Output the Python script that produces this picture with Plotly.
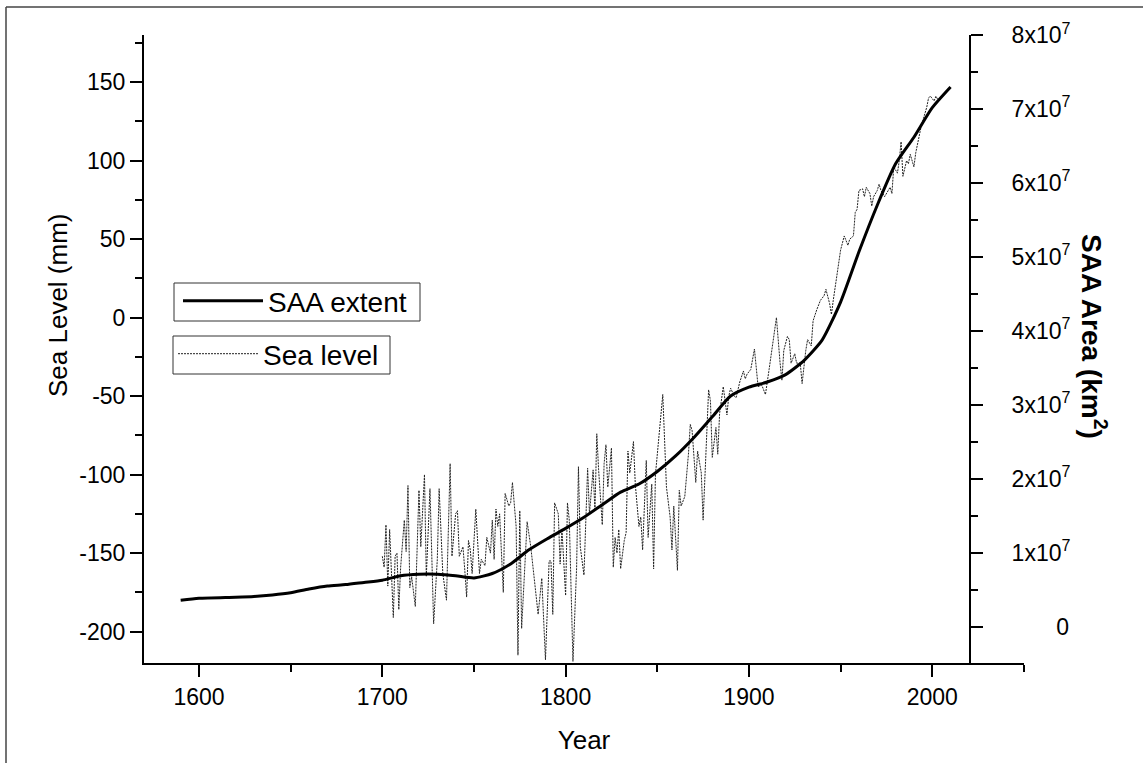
import plotly.graph_objects as go

# ---- data ----
saa_year = [1590, 1600, 1620, 1630, 1640, 1650, 1660, 1670, 1680, 1690, 1700,
            1710, 1720, 1730, 1740, 1750, 1760, 1770, 1780, 1790, 1800, 1810, 1820,
            1830, 1840, 1850, 1860, 1870, 1880, 1890, 1900, 1910, 1920, 1930, 1940,
            1950, 1960, 1970, 1980, 1990, 2000, 2010]
saa_area = [3.58e6, 3.85e6, 4.0e6, 4.1e6, 4.3e6, 4.6e6, 5.1e6, 5.5e6, 5.7e6, 6.0e6, 6.3e6,
            6.9e6, 7.1e6, 7.1e6, 6.9e6, 6.6e6, 7.2e6, 8.5e6, 1.04e7, 1.19e7, 1.33e7, 1.48e7, 1.65e7,
            1.82e7, 1.93e7, 2.10e7, 2.31e7, 2.56e7, 2.84e7, 3.12e7, 3.24e7, 3.31e7, 3.41e7, 3.60e7, 3.88e7,
            4.39e7, 5.07e7, 5.70e7, 6.26e7, 6.62e7, 7.02e7, 7.30e7]

sea_year = [1700, 1701, 1702, 1703, 1704, 1705, 1706, 1707, 1708, 1709, 1710, 1712, 1713, 1714,
            1715, 1716, 1718, 1720, 1721, 1723, 1724, 1726, 1727, 1728, 1730, 1731, 1733, 1735,
            1737, 1738, 1740, 1741, 1742, 1744, 1745, 1746, 1747, 1748, 1749, 1751, 1753, 1754,
            1756, 1757, 1759, 1760, 1761, 1762, 1763, 1764, 1766, 1767, 1769, 1770, 1771, 1773,
            1774, 1775, 1776, 1778, 1779, 1781, 1784, 1785, 1787, 1789, 1791, 1792, 1793, 1794,
            1796, 1797, 1798, 1800, 1801, 1802, 1804, 1806, 1807, 1808, 1810, 1811, 1812, 1813,
            1815, 1816, 1817, 1818, 1820, 1821, 1822, 1823, 1825, 1826, 1827, 1828, 1829, 1830,
            1832, 1833, 1834, 1835, 1837, 1838, 1840, 1841, 1842, 1844, 1845, 1847, 1848, 1849,
            1851, 1853, 1855, 1857, 1858, 1859, 1861, 1862, 1863, 1865, 1867, 1868, 1869, 1871,
            1872, 1874, 1875, 1877, 1878, 1879, 1880, 1882, 1883, 1884, 1885, 1886, 1888, 1889,
            1890, 1892, 1893, 1895, 1897, 1898, 1899, 1901, 1903, 1905, 1907, 1909, 1911, 1913,
            1915, 1917, 1918, 1919, 1921, 1922, 1923, 1925, 1926, 1928, 1929, 1931, 1932, 1934,
            1935, 1937, 1939, 1941, 1942, 1944, 1945, 1946, 1948, 1950, 1952, 1954, 1955, 1957,
            1958, 1959, 1960, 1962, 1963, 1964, 1966, 1967, 1968, 1970, 1971, 1972, 1974, 1975,
            1977, 1978, 1979, 1981, 1982, 1983, 1984, 1986, 1987, 1988, 1990, 1991, 1992, 1994,
            1995, 1997, 1998, 1999, 2001, 2002, 2003]
sea_level = [-152, -159, -132, -171, -135, -167, -191, -152, -150, -186, -159, -129, -149, -107,
             -172, -165, -184, -110, -146, -100, -165, -109, -158, -195, -154, -109, -163, -180,
             -93, -152, -125, -123, -152, -146, -161, -178, -142, -148, -163, -122, -163, -154,
             -158, -140, -150, -129, -154, -122, -133, -125, -175, -112, -120, -118, -105, -133,
             -215, -123, -198, -154, -130, -146, -176, -189, -166, -218, -155, -155, -189, -118,
             -125, -157, -135, -177, -118, -129, -219, -159, -95, -146, -164, -129, -96, -125,
             -97, -123, -74, -97, -132, -93, -81, -108, -83, -159, -140, -150, -135, -160,
             -142, -137, -85, -99, -79, -106, -133, -127, -148, -91, -140, -106, -160, -100,
             -72, -49, -108, -127, -148, -120, -161, -110, -120, -114, -87, -68, -72, -105,
             -85, -99, -129, -74, -46, -53, -89, -70, -87, -61, -53, -44, -62, -50,
             -45, -50, -51, -41, -34, -39, -36, -33, -20, -44, -43, -49, -33, -18,
             0, -29, -40, -21, -12, -14, -29, -23, -29, -29, -42, -21, -14, -18,
             -2, 5, 11, 14, 18, 9, 2, 11, 28, 43, 52, 46, 50, 52,
             67, 69, 81, 82, 77, 83, 79, 71, 77, 81, 85, 81, 77, 79,
             83, 79, 96, 92, 100, 112, 90, 100, 98, 104, 96, 105, 111, 122,
             126, 134, 140, 141, 138, 141, 139]

x_ticks = [1600, 1700, 1800, 1900, 2000]
left_tickvals = [-200, -150, -100, -50, 0, 50, 100, 150]
left_ticktext = ["-200", "-150", "-100", "-50", "0", "50", "100", "150"]
right_tickvals = [0, 1e7, 2e7, 3e7, 4e7, 5e7, 6e7, 7e7, 8e7]
right_ticktext = ["\u00a0" * 7 + "0"] + ["%dx10<sup>7</sup>" % k for k in range(1, 9)]

FONT = "Arial, 'Liberation Sans', sans-serif"

fig = go.Figure()
fig.add_trace(go.Scatter(
    x=saa_year, y=saa_area, mode="lines", name="SAA extent", yaxis="y2",
    line=dict(color="black", width=3, shape="spline", smoothing=0.6),
    legend="legend"))
fig.add_trace(go.Scatter(
    x=sea_year, y=sea_level, mode="lines", name="Sea level", yaxis="y",
    line=dict(color="#222222", width=1, dash="2px,1px"),
    legend="legend2"))

axis_common = dict(showgrid=False, zeroline=False, showline=True, linecolor="black",
                   linewidth=2, ticks="outside", ticklen=12, tickwidth=2, tickcolor="black",
                   tickfont=dict(family=FONT, size=23, color="black"))

def px_x(px):
    return (px - 144) / 880

def px_y(py):
    return (663 - py) / 628

fig.update_layout(
    width=1143, height=763,
    margin=dict(l=144, r=119, t=35, b=100),
    paper_bgcolor="white", plot_bgcolor="white",
    font=dict(family=FONT, color="black"),
    xaxis=dict(range=[1570, 2050.05], tickvals=x_ticks,
               minor=dict(dtick=50, tick0=1600, ticks="outside", ticklen=7, tickwidth=2, tickcolor="black"),
               title=dict(text="Year", font=dict(family=FONT, size=26), standoff=22),
               **axis_common),
    yaxis=dict(range=[-220, 180], tickvals=left_tickvals, ticktext=left_ticktext,
               minor=dict(dtick=25, tick0=0, ticks="outside", ticklen=7, tickwidth=2, tickcolor="black"),
               **axis_common),
    yaxis2=dict(range=[-4.9e6, 8.002e7], overlaying="y", side="right", anchor="free",
                position=px_x(970),
                tickvals=right_tickvals, ticktext=right_ticktext,
                minor=dict(dtick=5e6, tick0=0, ticks="outside", ticklen=7, tickwidth=2, tickcolor="black"),
                ticklabelstandoff=24,
                **axis_common),
    legend=dict(x=px_x(178), y=px_y(276), xanchor="left", yanchor="top",
                bgcolor="rgba(0,0,0,0)", borderwidth=0,
                font=dict(family=FONT, size=28), itemwidth=80, tracegroupgap=0),
    legend2=dict(x=px_x(173), y=px_y(329), xanchor="left", yanchor="top",
                 bgcolor="rgba(0,0,0,0)", borderwidth=0,
                 font=dict(family=FONT, size=28), itemwidth=80, tracegroupgap=0),
    showlegend=True,
)

# legend frames
fig.add_shape(type="rect", xref="paper", yref="paper",
              x0=px_x(174), x1=px_x(420), y0=px_y(321), y1=px_y(283),
              line=dict(color="#333333", width=1), fillcolor="white", layer="above")
fig.add_shape(type="rect", xref="paper", yref="paper",
              x0=px_x(173), x1=px_x(390), y0=px_y(374), y1=px_y(336),
              line=dict(color="#333333", width=1), fillcolor="white", layer="above")

# axis titles
fig.add_annotation(
    text="Sea Level (mm)", textangle=-90,
    xref="paper", yref="paper", x=px_x(58), y=px_y(305),
    xanchor="center", yanchor="middle",
    showarrow=False, font=dict(family=FONT, size=26, color="black"))
fig.add_annotation(
    text="<b>SAA Area (km<sup>2</sup>)</b>", textangle=90,
    xref="paper", yref="paper", x=px_x(1094), y=px_y(336),
    xanchor="center", yanchor="middle",
    showarrow=False, font=dict(family=FONT, size=28, color="black"))

# outer frame (top and left edges visible in the picture)
fig.add_shape(type="line", xref="paper", yref="paper",
              x0=px_x(6), x1=px_x(1143), y0=px_y(7), y1=px_y(7),
              line=dict(color="#444444", width=1.5))
fig.add_shape(type="line", xref="paper", yref="paper",
              x0=px_x(6), x1=px_x(6), y0=px_y(7), y1=px_y(763),
              line=dict(color="#444444", width=1.5))

fig.write_html("out.html")
